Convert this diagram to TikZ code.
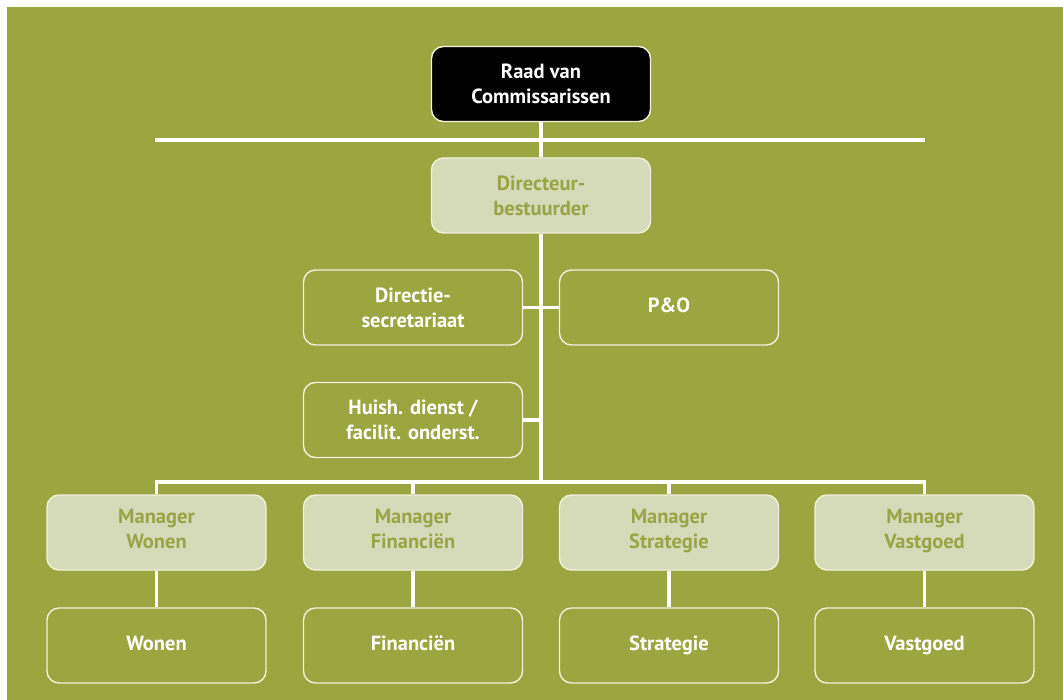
\documentclass[tikz,border=0pt]{standalone}
\usepackage{fontspec}
\setmainfont{PT Sans}
\usetikzlibrary{positioning}
\definecolor{olive}{HTML}{9BA640}
\definecolor{sage}{HTML}{D5DBB9}
\definecolor{leaf}{HTML}{98A546}
\definecolor{cream}{HTML}{F2F2DC}

\begin{document}
\begin{tikzpicture}[x=1pt,y=-1pt,line join=miter]
    \tikzstyle{wire} = [draw=white,line width=3.5pt]
    \tikzstyle{unit} = [rectangle, rounded corners=12pt, minimum width=219pt, minimum height=75pt, text centered, align=center, draw=cream, line width=1.4pt, font=\bfseries\fontsize{20.5}{25}\selectfont, text=white]
    \tikzstyle{board} = [unit, fill=black]
    \tikzstyle{lead} = [unit, fill=sage, text=leaf]
    % background
    \useasboundingbox (0,0) rectangle (1063,700);
    \fill[white] (0,0) rectangle (1063,700);
    \fill[olive] (7,7) rectangle (1063,700);
    % top of the chart
    \node (raad) [board] at (541,84) {Raad van\\Commissarissen};
    \node (dir) [lead] at (541,195.5) {Directeur-\\bestuurder};
    \node (dsec) [unit] at (413,307.5) {Directie-\\secretariaat};
    \node (po) [unit] at (669,307.5) {P\&O\strut};
    \node (huis) [unit] at (413,420) {Huish. dienst /\\facilit. onderst.};
    % managers and departments
    \node (mwon) [lead] at (156.5,532.5) {Manager\\Wonen\strut};
    \node (mfin) [lead] at (413,532.5) {Manager\\Financiën\strut};
    \node (mstr) [lead] at (669,532.5) {Manager\\Strategie\strut};
    \node (mvas) [lead] at (924.5,532.5) {Manager\\Vastgoed\strut};
    \node (won) [unit] at (156.5,645.5) {Wonen\strut};
    \node (fin) [unit] at (413,645.5) {Financiën\strut};
    \node (str) [unit] at (669,645.5) {Strategie\strut};
    \node (vas) [unit] at (924.5,645.5) {Vastgoed\strut};
    \coordinate (barL) at (155,140);
    \coordinate (barR) at (925,140);
    \coordinate (hub) at (541,482);
    \coordinate (hubL) at (156.5,482);
    \coordinate (hubR) at (924.5,482);
    % connectors
    \draw [wire] (barL) -- (barR);
    \draw [wire] (raad.south) -- (dir.north);
    \draw [wire] (dir.south) -- (hub);
    \draw [wire] (dsec.east) -- (po.west);
    \draw [wire] (huis.east) -- (huis.east -| hub);
    \draw [wire,line cap=rect] (hubL) -- (hubR);
    \draw [wire] (hubL) -- (mwon.north);
    \draw [wire] (mfin.north |- hub) -- (mfin.north);
    \draw [wire] (mstr.north |- hub) -- (mstr.north);
    \draw [wire] (hubR) -- (mvas.north);
    \draw [wire] (mwon.south) -- (won.north);
    \draw [wire] (mfin.south) -- (fin.north);
    \draw [wire] (mstr.south) -- (str.north);
    \draw [wire] (mvas.south) -- (vas.north);
\end{tikzpicture}
\end{document}
